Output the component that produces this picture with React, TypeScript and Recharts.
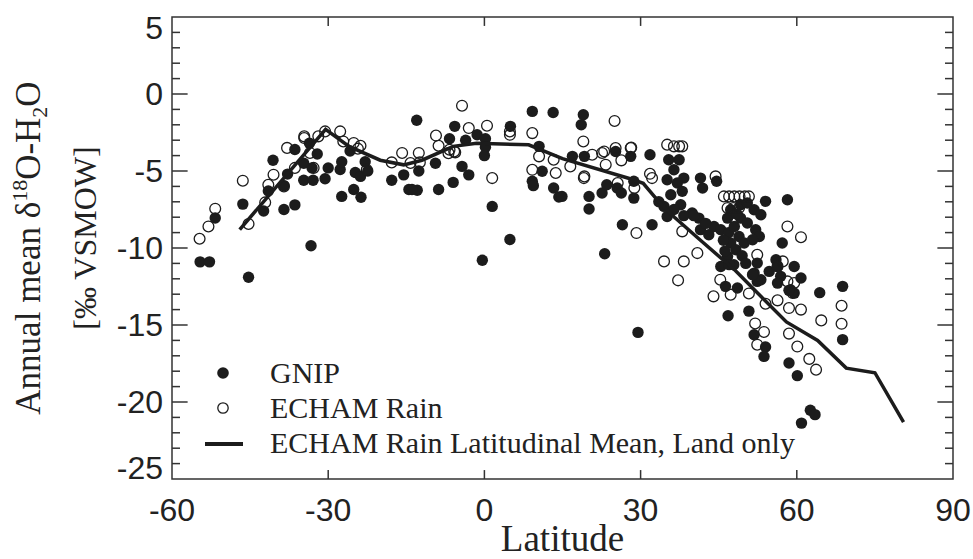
import { ScatterChart, Scatter, XAxis, YAxis, ReferenceLine, ReferenceArea } from "recharts";

// [latitude, annual mean d18O]
const gnip: [number, number][] = [
  [-54.6, -10.9], [-52.8, -10.9], [-51.7, -8.05], [-46.4, -7.15], [-45.3, -11.9],
  [-42.4, -7.6], [-41.5, -6.3], [-40.6, -4.3], [-38.5, -5.95], [-38.5, -7.5],
  [-37.8, -5.2], [-36.4, -7.2], [-36.4, -3.6], [-34.7, -4.5], [-34.7, -5.6],
  [-32.9, -5.6], [-33.1, -4.8], [-33.3, -9.85], [-32.1, -3.9], [-33.6, -3.2],
  [-30.6, -5.5], [-30.0, -4.8], [-27.7, -4.9], [-27.4, -4.4], [-27.4, -6.65],
  [-25.8, -3.7], [-25.1, -6.2], [-24.8, -5.1], [-23.8, -5.35], [-23.7, -6.7],
  [-22.9, -4.4], [-22.4, -5.0], [-17.8, -5.6], [-15.5, -5.25], [-14.5, -6.2],
  [-12.9, -6.25], [-12.6, -5.0], [-13.0, -1.7], [-13.9, -6.2], [-5.7, -2.1],
  [-6.7, -2.9], [-3.6, -3.0], [-1.4, -2.65], [0.2, -2.9], [0.2, -3.45],
  [0.0, -4.0], [-4.3, -4.7], [-3.0, -5.25], [-9.4, -4.5], [-8.8, -6.2],
  [-6.0, -5.74], [1.5, -7.3], [4.9, -9.45], [-0.4, -10.8], [5.0, -2.1],
  [9.2, -1.13], [13.2, -1.2], [19.0, -1.35], [18.6, -2.0], [10.5, -3.4],
  [9.2, -5.67], [9.4, -5.95], [11.1, -5.02], [13.3, -6.1], [14.3, -6.69],
  [16.9, -4.05], [19.2, -4.05], [20.1, -6.65], [20.1, -7.47], [22.6, -6.43],
  [23.5, -5.89], [25.2, -3.73], [25.5, -6.1], [26.3, -6.43], [28.1, -4.05],
  [28.7, -5.67], [28.7, -6.76], [26.5, -8.49], [23.1, -10.37], [14.9, -6.65],
  [31.8, -3.94], [32.2, -8.49], [35.4, -4.27], [37.4, -4.27], [36.4, -4.92],
  [35.1, -5.57], [38.3, -5.46], [37.05, -5.78], [41.5, -5.46], [41.9, -6.11],
  [44.6, -5.67], [38.0, -6.32], [35.8, -6.54], [34.5, -7.3], [35.1, -7.95],
  [37.7, -7.19], [39.9, -7.73], [41.2, -8.06], [38.3, -7.9], [36.4, -7.5],
  [41.5, -8.81], [43.1, -9.14], [44.1, -8.6], [45.4, -8.81], [46.7, -8.06],
  [47.3, -7.52], [49.2, -7.19], [50.5, -7.08], [51.8, -7.52], [53.1, -7.84],
  [54.0, -6.97], [58.2, -6.87], [46.9, -9.0], [48.0, -8.6], [49.2, -8.06],
  [50.5, -8.38], [52.1, -8.81], [52.8, -9.25], [48.9, -9.25], [47.3, -9.68],
  [48.3, -10.11], [49.9, -9.68], [51.5, -9.46], [46.7, -10.55], [45.4, -11.2],
  [47.9, -11.09], [52.4, -10.98], [51.8, -11.63], [53.1, -12.06], [54.7, -11.52],
  [56.0, -10.76], [56.3, -11.2], [56.9, -11.84], [59.5, -11.2], [60.8, -11.95],
  [57.2, -9.68], [58.8, -12.71], [59.5, -12.93], [56.3, -12.28], [46.3, -12.49],
  [48.6, -12.6], [64.4, -12.9], [50.8, -14.1], [47.0, -11.08], [52.4, -12.17],
  [51.5, -11.73], [58.5, -12.75], [68.8, -12.49], [46.8, -14.4], [51.8, -15.63],
  [54.0, -16.43], [53.7, -17.04], [58.5, -17.47], [60.1, -18.29], [68.8, -15.95],
  [62.6, -20.54], [63.5, -20.82], [60.9, -21.37], [29.5, -15.48], [45.9, -9.5],
  [46.2, -10.2], [49.5, -10.5], [50.2, -11.0], [48.5, -7.8], [40.2, -7.9],
  [42.5, -8.4], [33.5, -7.0],
];

const echam: [number, number][] = [
  [-54.7, -9.4], [-53.0, -8.6], [-51.7, -7.45], [-46.4, -5.63], [-45.3, -8.44],
  [-42.1, -7.04], [-41.5, -5.9], [-40.5, -5.24], [-37.9, -3.5], [-38.5, -6.0],
  [-36.4, -4.8], [-34.6, -2.75], [-34.6, -2.86], [-33.5, -3.83], [-32.8, -4.8],
  [-31.9, -2.75], [-30.6, -2.43], [-27.7, -2.43], [-27.1, -3.08], [-25.1, -3.18],
  [-23.8, -3.36], [-24.3, -3.55], [-22.6, -4.92], [-17.8, -4.44], [-15.8, -3.83],
  [-14.2, -4.48], [-12.6, -3.83], [-12.4, -4.44], [-4.3, -0.76], [-9.3, -2.7],
  [-8.8, -3.36], [-5.8, -3.73], [-3.0, -2.21], [0.5, -2.06], [1.5, -5.46],
  [4.9, -2.43], [4.9, -2.65], [9.2, -2.54], [9.2, -4.92], [10.5, -4.05],
  [13.3, -4.27], [13.7, -5.13], [16.5, -4.7], [-6.9, -3.84], [-6.7, -3.62],
  [-5.6, -3.79], [19.0, -3.08], [19.1, -5.46], [20.7, -3.94], [22.6, -3.83],
  [23.3, -4.59], [25.2, -3.51], [26.3, -4.31], [28.1, -3.51], [25.6, -5.78],
  [29.2, -9.03], [28.8, -6.1], [25.0, -1.75], [19.2, -5.35], [23.0, -3.73],
  [28.2, -3.47], [35.1, -3.29], [36.4, -3.4], [37.4, -3.4], [38.0, -3.4],
  [31.8, -5.18], [32.2, -5.46], [44.4, -5.35], [34.5, -10.87], [38.3, -10.87],
  [37.2, -12.1], [46.0, -6.65], [47.0, -6.65], [48.0, -6.65], [49.0, -6.65],
  [50.0, -6.65], [50.8, -6.65], [46.7, -7.4], [47.8, -7.4], [48.9, -7.4],
  [58.2, -8.6], [60.8, -9.3], [52.4, -10.44], [45.3, -12.06], [44.0, -13.14],
  [47.3, -13.03], [50.8, -12.95], [56.3, -13.4], [58.2, -12.17], [40.9, -10.33],
  [38.0, -8.92], [54.0, -13.62], [58.5, -13.9], [60.8, -14.0], [64.7, -14.7],
  [68.6, -13.75], [68.6, -14.92], [52.0, -14.9], [53.7, -15.45], [52.4, -16.28],
  [58.5, -15.56], [60.1, -16.4], [62.4, -17.2], [63.7, -17.9], [57.3, -10.87],
  [59.5, -12.27], [56.3, -11.19], [59.2, -12.92],
];

const meanLine: [number, number][] = [
  [-47, -8.8], [-30.5, -2.3], [-26, -3.4], [-20, -4.3], [-15.5, -4.6], [-12, -4.3],
  [-6, -3.4], [-1.5, -3.2], [8.5, -3.3], [15, -4.2], [28, -5.5], [30.5, -5.8],
  [34, -7.2], [36.5, -8], [41.5, -9.5], [48, -11.4], [58, -14.8], [64, -16],
  [69.5, -17.8], [75, -18.1], [80.5, -21.3],
];

const xTicks = [-60, -30, 0, 30, 60, 90];
const yTicks = [-25, -20, -15, -10, -5, 0, 5];
const yMinorTicks = Array.from({ length: 29 }, (_, i) => -24 + i);

const toPts = (arr: [number, number][]) => arr.map(([lat, d18O]) => ({ lat, d18O }));

const INK = "#1c1c1c";
const FRAME = "#333";
const SANS = "'Liberation Sans', Arial, sans-serif";
const SERIF = "'Liberation Serif', 'Times New Roman', serif";

function YTick(props: any) {
  const { x, y, payload } = props;
  const v = payload.value;
  const dy = v === 5 ? 11 : v === -25 ? -11 : 0;
  return (
    <text x={x} y={y + dy} textAnchor="end" dominantBaseline="central" fontFamily={SANS} fontSize={32} fill="#222">
      {v}
    </text>
  );
}

const FilledDot = (p: any) => <circle cx={p.cx} cy={p.cy} r={5.7} fill={INK} />;
const OpenDot = (p: any) => <circle cx={p.cx} cy={p.cy} r={5.4} fill="none" stroke={INK} strokeWidth={1.3} />;

export default function App() {
  return (
    <div style={{ position: "absolute", left: 0, top: 0, width: 973, height: 559, background: "#fff" }}>
      <ScatterChart width={973} height={559} margin={{ top: 17, right: 20, bottom: 0, left: 0 }}>
        <XAxis
          type="number"
          dataKey="lat"
          domain={[-60, 90]}
          ticks={xTicks}
          interval={0}
          height={80}
          tickSize={0}
          tickMargin={19}
          axisLine={false}
          tickLine={false}
          tick={{ fontFamily: SANS, fontSize: 32, fill: "#222" }}
          label={{
            value: "Latitude",
            position: "insideBottom",
            offset: 8,
            style: { fontFamily: SERIF, fontSize: 37, fill: "#222" },
          }}
        />
        <YAxis
          type="number"
          dataKey="d18O"
          domain={[-25, 5]}
          ticks={yTicks}
          interval={0}
          width={172}
          tickSize={0}
          tickMargin={9}
          axisLine={false}
          tickLine={false}
          tick={<YTick />}
        />
        <ReferenceArea x1={-60} x2={90} y1={-25} y2={5} fill="none" fillOpacity={0} stroke={FRAME} strokeWidth={1.5} />
        {yTicks.slice(1, -1).map((v) => (
          <ReferenceLine key={`lM${v}`} segment={[{ x: -60, y: v }, { x: -57, y: v }]} stroke={FRAME} strokeWidth={1.5} />
        ))}
        {yTicks.slice(1, -1).map((v) => (
          <ReferenceLine key={`rM${v}`} segment={[{ x: 87, y: v }, { x: 90, y: v }]} stroke={FRAME} strokeWidth={1.5} />
        ))}
        {yMinorTicks.filter((v) => v % 5 !== 0).map((v) => (
          <ReferenceLine key={`lm${v}`} segment={[{ x: -60, y: v }, { x: -58.46, y: v }]} stroke={FRAME} strokeWidth={1.5} />
        ))}
        {yMinorTicks.filter((v) => v % 5 !== 0).map((v) => (
          <ReferenceLine key={`rm${v}`} segment={[{ x: 88.46, y: v }, { x: 90, y: v }]} stroke={FRAME} strokeWidth={1.5} />
        ))}
        {xTicks.slice(1, -1).map((v) => (
          <ReferenceLine key={`b${v}`} segment={[{ x: v, y: -25 }, { x: v, y: -24.42 }]} stroke={FRAME} strokeWidth={1.5} />
        ))}
        {xTicks.slice(1, -1).map((v) => (
          <ReferenceLine key={`t${v}`} segment={[{ x: v, y: 5 }, { x: v, y: 4.42 }]} stroke={FRAME} strokeWidth={1.5} />
        ))}
        <Scatter name="GNIP" data={toPts(gnip)} shape={FilledDot} isAnimationActive={false} />
        <Scatter name="ECHAM Rain" data={toPts(echam)} shape={OpenDot} isAnimationActive={false} />
        <Scatter
          name="ECHAM Rain Latitudinal Mean, Land only"
          data={toPts(meanLine)}
          line={{ stroke: INK, strokeWidth: 3.5 }}
          shape={() => <g />}
          isAnimationActive={false}
        />
      </ScatterChart>
      <svg width={973} height={559} style={{ position: "absolute", left: 0, top: 0, pointerEvents: "none" }}>
        <text transform="rotate(-90 40 248)" x={40} y={248} textAnchor="middle" fontFamily={SERIF} fontSize={35} fill="#222">
          Annual mean δ<tspan dy={-13} fontSize={22}>18</tspan>
          <tspan dy={13}>O-H</tspan>
          <tspan dy={7} fontSize={22}>2</tspan>
          <tspan dy={-7}>O</tspan>
        </text>
        <text transform="rotate(-90 96 238)" x={96} y={238} textAnchor="middle" fontFamily={SERIF} fontSize={32} fill="#222">
          [‰ VSMOW]
        </text>
        <circle cx={223} cy={373} r={5.8} fill={INK} />
        <circle cx={223} cy={408} r={5.2} fill="none" stroke={INK} strokeWidth={1.3} />
        <line x1={205} y1={444} x2={243} y2={444} stroke={INK} strokeWidth={4} />
        <g fontFamily={SERIF} fontSize={30} fill="#222">
          <text x={270} y={383}>GNIP</text>
          <text x={270} y={418}>ECHAM Rain</text>
          <text x={270} y={453}>ECHAM Rain Latitudinal Mean, Land only</text>
        </g>
      </svg>
    </div>
  );
}
